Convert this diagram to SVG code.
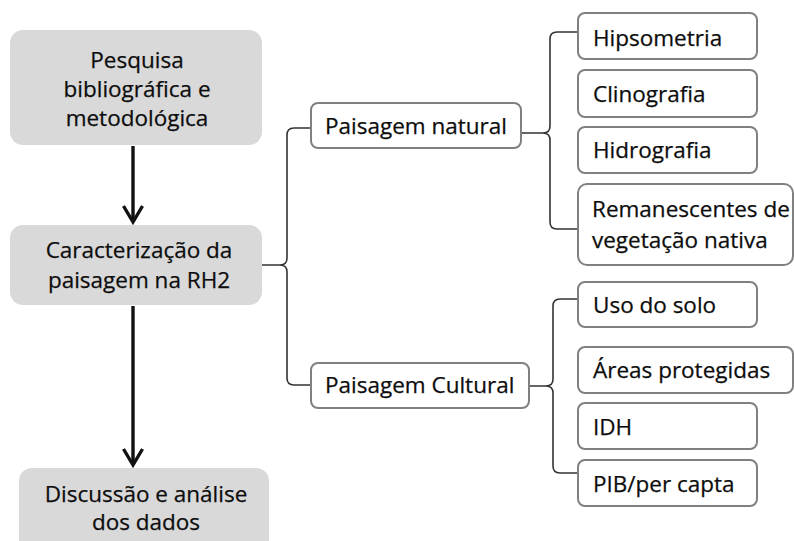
<svg xmlns="http://www.w3.org/2000/svg" width="794" height="541" viewBox="0 0 794 541">
<defs>
<style>
.gbox{fill:#d9d9d9;stroke:none}
.wbox{fill:#ffffff;stroke:#808080;stroke-width:2}
.t{font-family:"Open Sans","Liberation Sans",sans-serif;font-size:22.5px;fill:#0d0d0d;stroke:#0d0d0d;stroke-width:0.25}
.c{text-anchor:middle}
.br{fill:none;stroke:#333333;stroke-width:1.6}
.ar{fill:none;stroke:#111111;stroke-width:3.4}
</style>
</defs>
<rect width="794" height="541" fill="#ffffff"/>
<g id="connectors">
<path class="ar" d="M133,146 V221"/>
<path class="ar" d="M123.5,206 L133,222 L142.5,206"/>
<path class="ar" d="M133,306 V464"/>
<path class="ar" d="M123.5,449 L133,465 L142.5,449"/>
<path class="br" d="M311,128 H294 Q287,128 287,135 V258 Q287,265 280,265 H262 M280,265 Q287,265 287,272 V378 Q287,385 294,385 H311"/>
<path class="br" d="M578,32 H557 Q550,32 550,39 V126 Q550,133 543,133 H521 M543,133 Q550,133 550,140 V222 Q550,229 557,229 H578"/>
<path class="br" d="M578,299 H560 Q553,299 553,306 V379 Q553,386 546,386 H529 M546,386 Q553,386 553,393 V466 Q553,473 560,473 H578"/>
</g>
<g id="n-pesquisa">
<rect class="gbox" x="10" y="30" width="252" height="115" rx="13"/>
<text class="t c" x="137" y="68">Pesquisa</text>
<text class="t c" x="137" y="97">bibliográfica e</text>
<text class="t c" x="137" y="126">metodológica</text>
</g>
<g id="n-caracterizacao">
<rect class="gbox" x="10" y="225" width="252" height="80" rx="13"/>
<text class="t c" x="139" y="258">Caracterização da</text>
<text class="t c" x="139" y="288">paisagem na RH2</text>
</g>
<g id="n-discussao">
<rect class="gbox" x="19" y="468" width="250" height="90" rx="13"/>
<text class="t c" x="146" y="502">Discussão e análise</text>
<text class="t c" x="146" y="530">dos dados</text>
</g>
<g id="n-natural">
<rect class="wbox" x="311" y="103" width="210" height="45" rx="7"/>
<text class="t" x="325" y="134">Paisagem natural</text>
</g>
<g id="n-cultural">
<rect class="wbox" x="311" y="363" width="218" height="45" rx="7"/>
<text class="t" x="325" y="393">Paisagem Cultural</text>
</g>
<g id="n-hipsometria">
<rect class="wbox" x="578" y="13" width="179" height="46" rx="7"/>
<text class="t" x="593" y="46">Hipsometria</text>
</g>
<g id="n-clinografia">
<rect class="wbox" x="578" y="70" width="179" height="47" rx="7"/>
<text class="t" x="593" y="102">Clinografia</text>
</g>
<g id="n-hidrografia">
<rect class="wbox" x="578" y="127" width="179" height="46" rx="7"/>
<text class="t" x="593" y="158">Hidrografia</text>
</g>
<g id="n-remanescentes">
<rect class="wbox" x="578" y="184" width="215" height="81" rx="9"/>
<text class="t" x="592" y="217">Remanescentes de</text>
<text class="t" x="592" y="248">vegetação nativa</text>
</g>
<g id="n-uso">
<rect class="wbox" x="578" y="282" width="179" height="45" rx="7"/>
<text class="t" x="593" y="313">Uso do solo</text>
</g>
<g id="n-areas">
<rect class="wbox" x="578" y="347" width="215" height="46" rx="7"/>
<text class="t" x="593" y="378">Áreas protegidas</text>
</g>
<g id="n-idh">
<rect class="wbox" x="578" y="403" width="179" height="46" rx="7"/>
<text class="t" x="593" y="435">IDH</text>
</g>
<g id="n-pib">
<rect class="wbox" x="578" y="460" width="179" height="46" rx="7"/>
<text class="t" x="593" y="492">PIB/per capta</text>
</g>
</svg>
